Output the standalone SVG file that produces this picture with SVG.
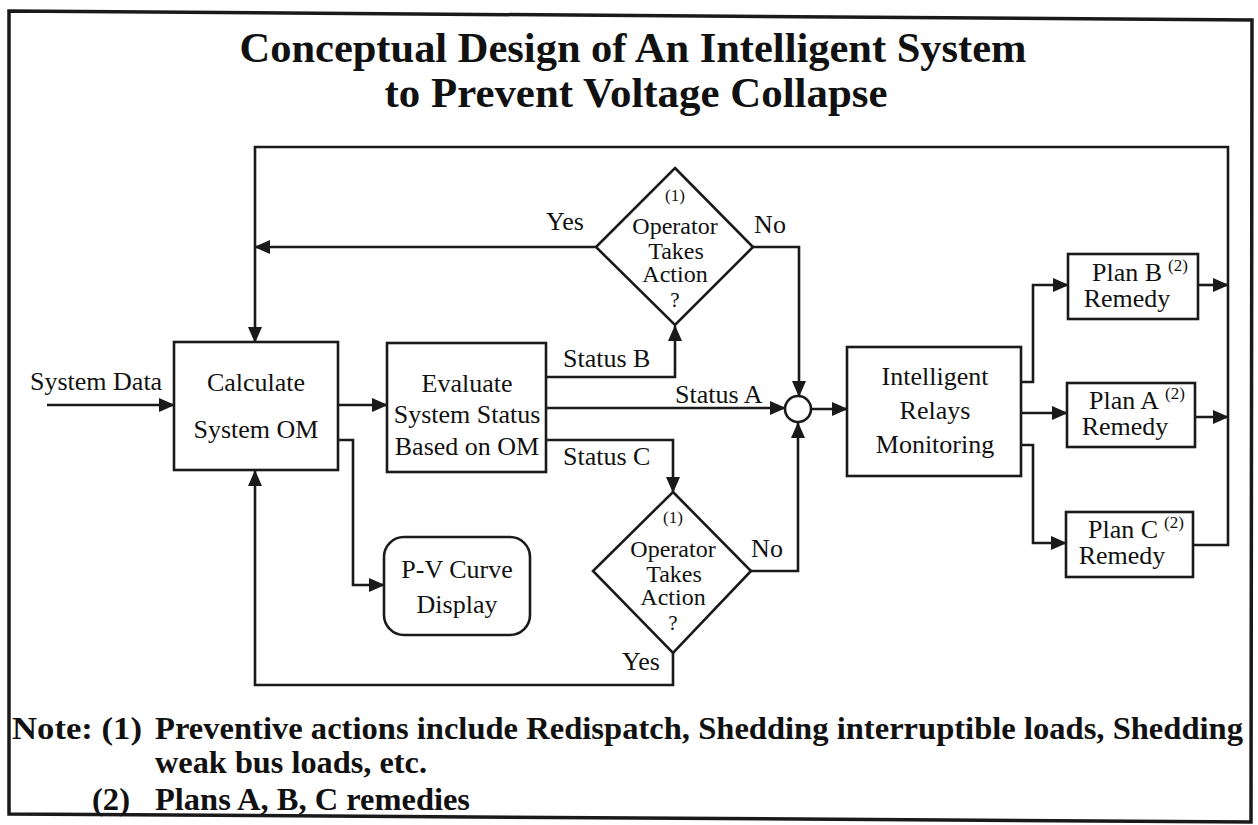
<svg xmlns="http://www.w3.org/2000/svg" width="1258" height="825" viewBox="0 0 1258 825">
  <style>
    .box { fill: #fff; stroke: #1a1a1a; stroke-width: 2.6; }
    .wire { fill: none; stroke: #1a1a1a; stroke-width: 2.6; }
    .lbl { font-family: "Liberation Serif", "Times New Roman", serif; font-size: 26px; fill: #111; }
    .dlbl { font-family: "Liberation Serif", "Times New Roman", serif; font-size: 24px; fill: #111; text-anchor: middle; }
    .q { font-family: "Liberation Serif", "Times New Roman", serif; font-size: 21px; fill: #111; text-anchor: middle; }
    .mid { text-anchor: middle; }
    .sup { font-family: "Liberation Serif", "Times New Roman", serif; font-size: 17px; fill: #111; }
    .head { font-family: "Liberation Serif", "Times New Roman", serif; font-weight: bold; font-size: 42px; fill: #111; }
    .note { font-family: "Liberation Serif", "Times New Roman", serif; font-weight: bold; font-size: 32px; fill: #111; }
  </style>
  <defs>
    <marker id="arr" markerUnits="userSpaceOnUse" markerWidth="16" markerHeight="14" refX="15" refY="7" orient="auto">
      <path d="M0,0 L16,7 L0,14 Z" fill="#1a1a1a"/>
    </marker>
  </defs>

  <rect width="1258" height="825" fill="#fff"/>

  <!-- outer frame -->
  <path d="M9,11 L1252,20 L1251,822 L9,814 Z" fill="none" stroke="#1a1a1a" stroke-width="3.5"/>

  <!-- heading -->
  <text class="head mid" x="633" y="62" textLength="787" lengthAdjust="spacingAndGlyphs">Conceptual Design of An Intelligent System</text>
  <text class="head mid" x="636" y="107" textLength="503" lengthAdjust="spacingAndGlyphs">to Prevent Voltage Collapse</text>

  <!-- connectors -->
  <g id="connectors">
    <!-- system data input -->
    <line class="wire" x1="47" y1="405" x2="174" y2="405" marker-end="url(#arr)"/>
    <!-- calculate -> evaluate -->
    <line class="wire" x1="338" y1="405" x2="387" y2="405" marker-end="url(#arr)"/>
    <!-- calculate -> P-V display -->
    <polyline class="wire" points="338,440 353,440 353,585 384,585" marker-end="url(#arr)"/>
    <!-- status B -> upper decision -->
    <polyline class="wire" points="546,377 675,377 675,326" marker-end="url(#arr)"/>
    <!-- status A -> junction -->
    <line class="wire" x1="546" y1="408" x2="785" y2="408" marker-end="url(#arr)"/>
    <!-- status C -> lower decision -->
    <polyline class="wire" points="546,440 673,440 673,492" marker-end="url(#arr)"/>
    <!-- upper decision: yes -> calculate -->
    <line class="wire" x1="596" y1="247" x2="255" y2="247" marker-end="url(#arr)"/>
    <!-- upper decision: no -> junction -->
    <polyline class="wire" points="753,247 799,247 799,396" marker-end="url(#arr)"/>
    <!-- lower decision: no -> junction -->
    <polyline class="wire" points="751,571 798,571 798,423" marker-end="url(#arr)"/>
    <!-- lower decision: yes -> calculate -->
    <polyline class="wire" points="673,653 673,685 255,685 255,471" marker-end="url(#arr)"/>
    <!-- junction -> relays -->
    <line class="wire" x1="812" y1="409" x2="847" y2="409" marker-end="url(#arr)"/>
    <!-- relays -> plans -->
    <polyline class="wire" points="1021,382 1033,382 1033,285 1068,285" marker-end="url(#arr)"/>
    <line class="wire" x1="1021" y1="413" x2="1067" y2="413" marker-end="url(#arr)"/>
    <polyline class="wire" points="1021,445 1033,445 1033,543 1066,543" marker-end="url(#arr)"/>
    <!-- plans -> return bus -->
    <line class="wire" x1="1198" y1="285" x2="1228" y2="285" marker-end="url(#arr)"/>
    <line class="wire" x1="1195" y1="417" x2="1228" y2="417" marker-end="url(#arr)"/>
    <!-- return bus -> calculate -->
    <polyline class="wire" points="1193,545 1228,545 1228,147 255,147 255,342" marker-end="url(#arr)"/>
  </g>

  <text class="lbl" x="30" y="390">System Data</text>

  <g id="calculate">
    <rect class="box" x="174" y="342" width="164" height="128"/>
    <text class="lbl mid" x="256" y="391">Calculate</text>
    <text class="lbl mid" x="256" y="438">System OM</text>
  </g>

  <g id="evaluate">
    <rect class="box" x="387" y="343" width="159" height="129"/>
    <text class="lbl mid" x="467" y="392">Evaluate</text>
    <text class="lbl mid" x="467" y="423">System Status</text>
    <text class="lbl mid" x="467" y="455">Based on OM</text>
  </g>

  <g id="status-labels">
    <text class="lbl" x="563" y="367">Status B</text>
    <text class="lbl" x="675" y="403">Status A</text>
    <text class="lbl" x="563" y="465">Status C</text>
  </g>

  <g id="decision-upper">
    <polygon class="box" points="675,168 753,247 675,325 596,247"/>
    <text class="sup mid" x="675" y="201">(1)</text>
    <text class="dlbl" x="675" y="234">Operator</text>
    <text class="dlbl" x="676" y="259">Takes</text>
    <text class="dlbl" x="675" y="282">Action</text>
    <text class="q" x="675" y="307">?</text>
    <text class="lbl mid" x="565" y="230">Yes</text>
    <text class="lbl mid" x="770" y="233">No</text>
  </g>

  <g id="decision-lower">
    <polygon class="box" points="673,492 751,571 673,653 593,571"/>
    <text class="sup mid" x="673" y="523">(1)</text>
    <text class="dlbl" x="673" y="557">Operator</text>
    <text class="dlbl" x="674" y="582">Takes</text>
    <text class="dlbl" x="673" y="605">Action</text>
    <text class="q" x="673" y="630">?</text>
    <text class="lbl mid" x="767" y="557">No</text>
    <text class="lbl mid" x="641" y="670">Yes</text>
  </g>

  <g id="pv-display">
    <rect class="box" x="384" y="537" width="146" height="98" rx="20" ry="20"/>
    <text class="lbl mid" x="457" y="578">P-V Curve</text>
    <text class="lbl mid" x="457" y="613">Display</text>
  </g>

  <g id="junction">
    <circle class="box" cx="798" cy="409" r="13"/>
  </g>

  <g id="relays">
    <rect class="box" x="847" y="347" width="174" height="129"/>
    <text class="lbl mid" x="935" y="385">Intelligent</text>
    <text class="lbl mid" x="935" y="419">Relays</text>
    <text class="lbl mid" x="935" y="453">Monitoring</text>
  </g>

  <g id="plan-b">
    <rect class="box" x="1068" y="254" width="130" height="65"/>
    <text class="lbl mid" x="1127" y="281">Plan B</text>
    <text class="sup" x="1168" y="271">(2)</text>
    <text class="lbl mid" x="1127" y="307">Remedy</text>
  </g>

  <g id="plan-a">
    <rect class="box" x="1067" y="383" width="128" height="64"/>
    <text class="lbl mid" x="1124" y="409">Plan A</text>
    <text class="sup" x="1165" y="399">(2)</text>
    <text class="lbl mid" x="1125" y="435">Remedy</text>
  </g>

  <g id="plan-c">
    <rect class="box" x="1066" y="512" width="127" height="65"/>
    <text class="lbl mid" x="1123" y="538">Plan C</text>
    <text class="sup" x="1164" y="528">(2)</text>
    <text class="lbl mid" x="1122" y="564">Remedy</text>
  </g>

  <!-- footnotes -->
  <g id="notes">
    <text class="note" x="12" y="739" textLength="130" lengthAdjust="spacingAndGlyphs">Note: (1)</text>
    <text class="note" x="155" y="739" textLength="1088" lengthAdjust="spacingAndGlyphs">Preventive actions include Redispatch, Shedding interruptible loads, Shedding</text>
    <text class="note" x="155" y="773" textLength="272" lengthAdjust="spacingAndGlyphs">weak bus loads, etc.</text>
    <text class="note" x="92" y="810" textLength="38" lengthAdjust="spacingAndGlyphs">(2)</text>
    <text class="note" x="155" y="810" textLength="315" lengthAdjust="spacingAndGlyphs">Plans A, B, C remedies</text>
  </g>
</svg>
